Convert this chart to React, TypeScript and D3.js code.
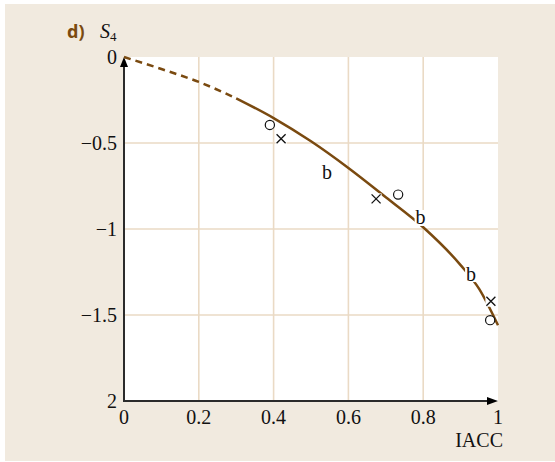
import React from "react";
import * as d3 from "d3";

const curveX = [0, 0.1, 0.2, 0.3, 0.4, 0.5, 0.6, 0.7, 0.8, 0.9, 0.95, 1];
const curveY = [0, -0.07, -0.145, -0.24, -0.355, -0.49, -0.645, -0.815, -0.99, -1.21, -1.35, -1.56];
const dashedEnd = 0.3;

const circlesX = [0.39, 0.733, 0.979];
const circlesY = [-0.395, -0.8, -1.53];
const crossesX = [0.42, 0.674, 0.981];
const crossesY = [-0.475, -0.825, -1.42];
const bLabelX = [0.543, 0.793, 0.928];
const bLabelY = [-0.669, -0.936, -1.262];

const xTicks = [0, 0.2, 0.4, 0.6, 0.8, 1];
const xTickLabels = ["0", "0.2", "0.4", "0.6", "0.8", "1"];
const yTicks = [0, -0.5, -1, -1.5, -2];
const yTickLabels = ["0", "\u22120.5", "\u22121", "\u22121.5", "2"];

const W = 555;
const H = 462;
const BG = "#F1EADF";
const GRID = "#EADAC5";
const BROWN = "#7A4A10";
const AXIS = "#2b2b2b";
const SERIF = "'Liberation Serif', 'Times New Roman', serif";

export default function App() {
  const x = d3.scaleLinear().domain([0, 1]).range([124, 498]);
  const y = d3.scaleLinear().domain([0, -2]).range([57, 401]);

  const pts = curveX.map((v, i) => [v, curveY[i]] as [number, number]);
  const line = d3
    .line<[number, number]>()
    .x((d) => x(d[0]))
    .y((d) => y(d[1]))
    .curve(d3.curveMonotoneX);
  const dashedPts = pts.filter((p) => p[0] <= dashedEnd);
  const solidPts = pts.filter((p) => p[0] >= dashedEnd);

  const fs = 20;

  return (
    <svg
      width={W}
      height={H}
      style={{ position: "absolute", left: 0, top: 0 }}
      xmlns="http://www.w3.org/2000/svg"
    >
      <rect x={0} y={0} width={W} height={H} fill="#ffffff" />
      <rect x={5} y={4} width={W - 5} height={457} fill={BG} />
      <rect x={x(0)} y={y(0)} width={x(1) - x(0)} height={y(-2) - y(0)} fill="#ffffff" />

      {/* grid */}
      {xTicks
        .filter((t) => t > 0 && t < 1)
        .map((t) => (
          <line key={"gx" + t} x1={x(t)} x2={x(t)} y1={y(0)} y2={y(-2)} stroke={GRID} strokeWidth={1.6} />
        ))}
      {yTicks
        .filter((t) => t < 0 && t > -2)
        .map((t) => (
          <line key={"gy" + t} x1={x(0)} x2={x(1)} y1={y(t)} y2={y(t)} stroke={GRID} strokeWidth={1.6} />
        ))}

      {/* axes */}
      <line x1={x(0)} x2={x(0)} y1={y(-2)} y2={y(0) + 6} stroke={AXIS} strokeWidth={2} />
      <line x1={x(0) - 1} x2={x(1) - 6} y1={y(-2)} y2={y(-2)} stroke={AXIS} strokeWidth={2} />
      <path
        d={`M${x(0)},${y(0)} L${x(0) - 4},${y(0) + 10} L${x(0) + 4},${y(0) + 10} Z`}
        fill="#000"
      />
      <path
        d={`M${x(1)},${y(-2)} L${x(1) - 11},${y(-2) - 4} L${x(1) - 11},${y(-2) + 4} Z`}
        fill="#000"
      />

      {/* curve */}
      <path d={line(dashedPts) || ""} fill="none" stroke={BROWN} strokeWidth={2.5} strokeDasharray="7,5" />
      <path d={line(solidPts) || ""} fill="none" stroke={BROWN} strokeWidth={2.5} />

      {/* b labels */}
      {bLabelX.map((v, i) => (
        <g key={"b" + i}>
          <rect x={x(v) - 6} y={y(bLabelY[i]) - 8} width={12} height={16} fill="#ffffff" />
          <text
            x={x(v)}
            y={y(bLabelY[i]) + 6.5}
            textAnchor="middle"
            fontFamily={SERIF}
            fontSize={fs}
            fill="#111"
          >
            b
          </text>
        </g>
      ))}

      {/* circles */}
      {circlesX.map((v, i) => (
        <circle key={"c" + i} cx={x(v)} cy={y(circlesY[i])} r={4.6} fill="#fff" stroke="#111" strokeWidth={1.2} />
      ))}
      {/* crosses */}
      {crossesX.map((v, i) => {
        const cx = x(v);
        const cy = y(crossesY[i]);
        const s = 4.5;
        return (
          <g key={"x" + i}>
            <rect x={cx - s - 1} y={cy - s - 1} width={2 * s + 2} height={2 * s + 2} fill="#fff" />
            <path
              d={`M${cx - s},${cy - s} L${cx + s},${cy + s} M${cx - s},${cy + s} L${cx + s},${cy - s}`}
              stroke="#111"
              strokeWidth={1.3}
            />
          </g>
        );
      })}

      {/* tick labels */}
      {yTicks.map((t, i) => (
        <text
          key={"yl" + i}
          x={117}
          y={y(t) + 6.5}
          textAnchor="end"
          fontFamily={SERIF}
          fontSize={fs}
          fill="#111"
        >
          {yTickLabels[i]}
        </text>
      ))}
      {xTicks.map((t, i) => (
        <text
          key={"xl" + i}
          x={x(t)}
          y={424}
          textAnchor="middle"
          fontFamily={SERIF}
          fontSize={fs}
          fill="#111"
        >
          {xTickLabels[i]}
        </text>
      ))}
      <text x={503} y={447} textAnchor="end" fontFamily={SERIF} fontSize={fs} fill="#111">
        IACC
      </text>

      {/* title */}
      <text x={67} y={38} fontFamily="'Noto Sans', 'DejaVu Sans', sans-serif" fontWeight="bold" fontSize={18} fill={BROWN}>
        d)
      </text>
      <text x={100} y={38} fontFamily={SERIF} fontStyle="italic" fontSize={20} fill="#111">
        S
        <tspan fontStyle="normal" fontSize={13} dy={3}>
          4
        </tspan>
      </text>
    </svg>
  );
}
